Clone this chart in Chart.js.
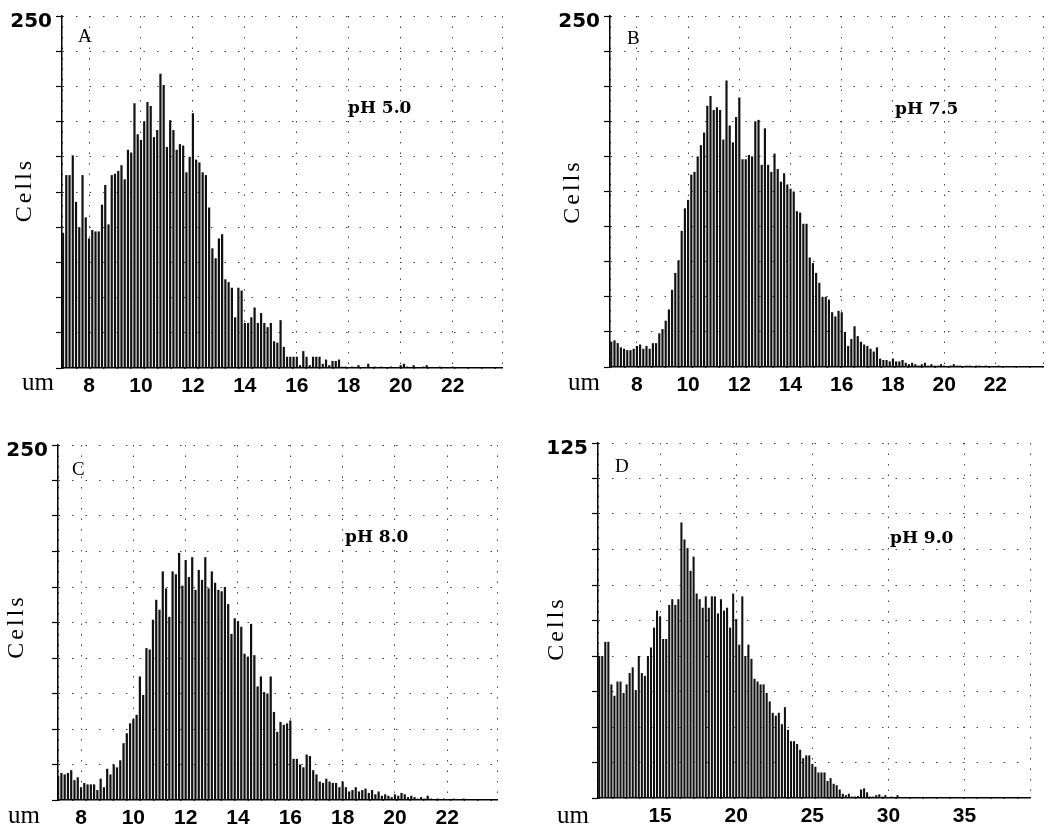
<!DOCTYPE html>
<html>
<head>
<meta charset="utf-8">
<script src="https://cdn.jsdelivr.net/npm/chart.js@4.4.1/dist/chart.umd.min.js"></script>
<style>
  html, body { margin: 0; padding: 0; background: #fff; }
  #wrap { position: relative; width: 1050px; height: 830px; overflow: hidden; }
  canvas { position: absolute; }
</style>
</head>
<body>
<div id="wrap">
  <canvas id="chartA" width="525" height="405" style="left:0;top:0"></canvas>
  <canvas id="chartB" width="525" height="405" style="left:525px;top:0"></canvas>
  <canvas id="chartC" width="525" height="420" style="left:0;top:410px"></canvas>
  <canvas id="chartD" width="525" height="420" style="left:525px;top:410px"></canvas>
</div>
<script>
// bin start / width (um) and cell counts per bin
const startA = 7.0, stepA = 0.125;
const countsA = [96,137,137,151,118,100,137,107,92,98,97,97,116,130,102,137,138,140,144,134,
  155,153,188,166,162,175,189,186,164,169,209,201,157,176,169,155,159,158,139,150,
  181,148,146,139,137,114,85,78,92,95,63,61,57,36,57,55,32,32,36,43,
  32,39,32,29,32,19,18,34,15,8,8,8,8,2,12,8,2,8,8,8,
  3,6,2,5,5,6,1,1,0,1,0,2,0,0,3,0,1,0,1,0,
  0,1,0,0,2,3,1,0,2,0,0,1,2,0,0,0,1,0,0,0,1];

const startB = 7.0, stepB = 0.125;
const countsB = [18,19,17,14,13,12,12,13,15,16,13,15,13,17,17,24,27,33,41,55,
  67,76,97,113,119,137,139,150,158,167,186,193,183,185,183,162,204,172,160,178,
  192,148,148,151,150,175,176,144,170,144,139,152,141,132,138,130,127,125,111,110,
  102,102,78,74,67,60,50,50,48,39,36,40,39,25,15,20,29,22,18,16,
  15,13,11,14,6,5,5,4,6,4,4,5,3,2,3,2,1,2,3,1,
  2,1,1,2,1,0,1,2,1,1,0,1,1,0,1,1,0,1,0,0,0,1];

const startC = 7.125, stepC = 0.125;
const countsC = [17,19,18,19,21,14,16,9,12,11,11,11,7,15,9,22,18,25,23,28,
  40,47,54,57,60,87,74,107,106,127,141,134,161,149,129,161,159,174,151,169,
  157,171,148,162,155,171,149,161,153,148,147,150,138,117,128,126,122,103,101,124,
  102,80,87,76,75,87,62,48,55,53,54,56,29,29,25,23,32,31,21,18,
  13,12,15,13,12,12,9,13,9,6,7,9,6,7,8,5,7,4,6,3,
  4,3,2,4,3,5,4,2,3,2,1,2,1,3,1,0,1,0,1,0,0,1,0,0,1];

const startD = 11.0, stepD = 0.2;
const countsD = [50,50,55,55,40,36,41,41,37,40,44,46,38,50,44,43,50,53,60,66,
  64,56,56,68,70,68,70,97,91,88,80,85,72,70,67,71,67,71,71,65,
  70,66,67,60,72,63,54,71,50,54,49,42,41,40,40,37,34,30,29,30,
  26,32,24,20,20,19,17,14,15,15,12,11,9,9,9,6,7,5,4.5,3,
  1.5,1,1.5,0.5,0.5,0.7,3,3.4,2,0.5,0.5,1,1.3,0.5,1,0,0.5,0,1,0];

// tick labels
const xLabelsABC = [8, 10, 12, 14, 16, 18, 20, 22];
const xLabelsD = [15, 20, 25, 30, 35];
const yTopABC = 250, yTopD = 125;
const panelLetters = ['A', 'B', 'C', 'D'];
const phLabels = ['pH 5.0', 'pH 7.5', 'pH 8.0', 'pH 9.0'];

const panelText = {
  id: 'panelText',
  afterDraw(chart, args, o) {
    const ctx = chart.ctx, a = chart.chartArea;
    ctx.save();
    ctx.fillStyle = '#000';
    ctx.textBaseline = 'alphabetic';
    ctx.font = '19px "Liberation Serif"';
    ctx.fillText(o.letter, a.left + o.letterDx, a.top + o.letterDy);
    ctx.font = 'bold 17px "DejaVu Serif"';
    ctx.fillText(o.ph, a.left + o.phDx, a.top + o.phDy);
    ctx.font = '25px "Liberation Serif"';
    ctx.fillText('um', a.left + o.umDx, a.bottom + o.umDy);
    ctx.translate(a.left + o.cellsDx, (a.top + a.bottom) / 2 + o.cellsDy);
    ctx.rotate(-Math.PI / 2);
    ctx.textAlign = 'center';
    ctx.textBaseline = 'middle';
    ctx.font = '24px "Liberation Serif"';
    ctx.letterSpacing = '3px';
    ctx.fillText('Cells', 0, 0);
    ctx.restore();
  }
};

function toPoints(start, step, counts) {
  return counts.map((v, i) => ({ x: +(start + i * step).toFixed(3), y: v }));
}

function panel(id, cfg) {
  const box = cfg.box;
  new Chart(document.getElementById(id), {
    type: 'bar',
    data: {
      datasets: [{
        data: toPoints(cfg.start, cfg.step, cfg.counts),
        backgroundColor: '#111',
        barPercentage: 0.68,
        categoryPercentage: 1
      }]
    },
    options: {
      responsive: false,
      animation: false,
      devicePixelRatio: 1,
      layout: { padding: { left: 0, top: box.t, right: box.w - box.r, bottom: 0 } },
      plugins: {
        legend: { display: false },
        tooltip: { enabled: false },
        panelText: cfg.text
      },
      scales: {
        x: {
          type: 'linear',
          min: cfg.xMin,
          max: cfg.xMax,
          offset: false,
          afterBuildTicks: s => {
            s.ticks = [cfg.xMin, ...cfg.xLabels, cfg.xMax].map(v => ({ value: v }));
          },
          afterFit: s => { s.height = box.h - box.b; },
          ticks: {
            autoSkip: false,
            maxRotation: 0,
            padding: 6,
            color: '#000',
            font: { family: '"Liberation Sans"', size: 21, weight: 'bold' },
            callback: v => cfg.xLabels.includes(v) ? String(v) : ''
          },
          grid: { color: '#444', lineWidth: 1, drawTicks: false, offset: false },
          border: { display: true, color: '#000', width: 1.5, dash: [1.5, 9] }
        },
        y: {
          min: 0,
          max: cfg.yMax,
          afterFit: s => { s.width = box.l; },
          ticks: {
            stepSize: cfg.yMax / 10,
            autoSkip: false,
            padding: 4,
            labelOffset: 6,
            color: '#000',
            font: { family: '"DejaVu Sans"', size: 20, weight: 'bold' },
            callback: v => v === cfg.yMax ? String(v) : ''
          },
          grid: { color: '#444', lineWidth: 1, tickLength: 6, tickColor: '#000', tickWidth: 1.2, tickBorderDash: [] },
          border: { display: true, color: '#000', width: 1.5, dash: [1.5, 12] }
        }
      }
    },
    plugins: [panelText]
  });
}

panel('chartA', {
  start: startA, step: stepA, counts: countsA,
  xMin: 6.96, xMax: 23.9, xLabels: xLabelsABC, yMax: yTopABC,
  box: { w: 525, h: 405, l: 62, t: 12, r: 502, b: 368 },
  text: { letter: panelLetters[0], letterDx: 16, letterDy: 26, ph: phLabels[0], phDx: 286, phDy: 97,
          cellsDx: -37, cellsDy: -2, umDx: -40, umDy: 22 }
});
panel('chartB', {
  start: startB, step: stepB, counts: countsB,
  xMin: 6.95, xMax: 23.86, xLabels: xLabelsABC, yMax: yTopABC,
  box: { w: 525, h: 405, l: 85, t: 12, r: 518, b: 367 },
  text: { letter: panelLetters[1], letterDx: 17, letterDy: 28, ph: phLabels[1], phDx: 285, phDy: 98,
          cellsDx: -37, cellsDy: 0, umDx: -42, umDy: 23 }
});
panel('chartC', {
  start: startC, step: stepC, counts: countsC,
  xMin: 7.12, xMax: 23.9, xLabels: xLabelsABC, yMax: yTopABC,
  box: { w: 525, h: 420, l: 58, t: 35, r: 497, b: 390 },
  text: { letter: panelLetters[2], letterDx: 14, letterDy: 30, ph: phLabels[2], phDx: 287, phDy: 97,
          cellsDx: -41, cellsDy: 4, umDx: -50, umDy: 23 }
});
panel('chartD', {
  start: startD, step: stepD, counts: countsD,
  xMin: 10.92, xMax: 39.3, xLabels: xLabelsD, yMax: yTopD,
  box: { w: 525, h: 420, l: 73, t: 33, r: 505, b: 388 },
  text: { letter: panelLetters[3], letterDx: 17, letterDy: 29, ph: phLabels[3], phDx: 292, phDy: 100,
          cellsDx: -41, cellsDy: 8, umDx: -41, umDy: 25 }
});
</script>
</body>
</html>
